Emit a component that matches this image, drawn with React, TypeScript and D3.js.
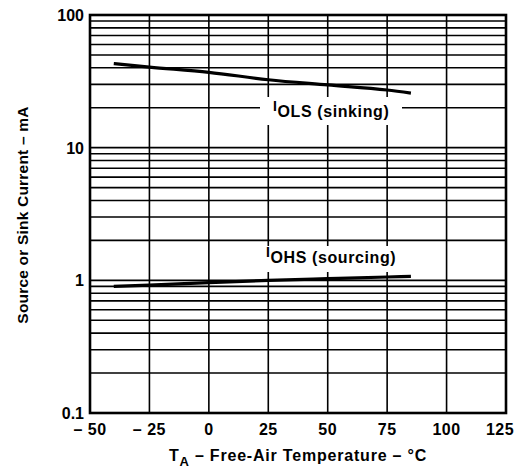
import React, { useRef, useEffect } from 'react';
import * as d3 from 'd3';

// curve data (temperature °C, current mA)
const temps = [-40, -25, 0, 25, 50, 75, 85];
const sinkCurrent = [43, 40.5, 37, 32.5, 29.7, 27.2, 25.8];
const sourceCurrent = [0.9, 0.92, 0.96, 1.0, 1.03, 1.06, 1.07];
const xTicks = [-50, -25, 0, 25, 50, 75, 100, 125];
const yTicks = [0.1, 1, 10, 100];

const W = 525;
const H = 469;
const FONT = '"Liberation Sans", Arial, Helvetica, sans-serif';

export default function App() {
  const svgRef = useRef<SVGSVGElement>(null);

  useEffect(() => {
    const svg = d3.select(svgRef.current);
    svg.selectAll('*').remove();

    const x = d3.scaleLinear().domain([-50, 125]).range([90, 506]);
    const y = d3.scaleLog().domain([0.1, 100]).range([413, 15]);

    // grid: every 1..9 per decade, every 25 °C
    const hLines: number[] = [];
    for (let dec = 0.1; dec < 100; dec *= 10) {
      for (let m = 1; m < 10; m++) hLines.push(+(m * dec).toPrecision(3));
    }
    const grid = svg.append('g').attr('stroke', '#000').attr('stroke-width', 1.6);
    grid.selectAll('line.h')
      .data(hLines)
      .join('line')
      .attr('x1', x(-50)).attr('x2', x(125))
      .attr('y1', d => y(d)).attr('y2', d => y(d));
    grid.selectAll('line.v')
      .data(xTicks)
      .join('line')
      .attr('x1', d => x(d)).attr('x2', d => x(d))
      .attr('y1', y(100)).attr('y2', y(0.1));

    // frame
    svg.append('rect')
      .attr('x', x(-50)).attr('y', y(100))
      .attr('width', x(125) - x(-50)).attr('height', y(0.1) - y(100))
      .attr('fill', 'none').attr('stroke', '#000').attr('stroke-width', 2.6);

    // curves
    const line = d3.line<number>()
      .x((d, i) => x(temps[i]))
      .y(d => y(d))
      .curve(d3.curveMonotoneX);
    svg.append('path').attr('d', line(sinkCurrent))
      .attr('fill', 'none').attr('stroke', '#000').attr('stroke-width', 3.2);
    svg.append('path').attr('d', line(sourceCurrent))
      .attr('fill', 'none').attr('stroke', '#000').attr('stroke-width', 3.2);

    // curve labels on white boxes
    const label = (bx: number, by: number, bw: number, bh: number, tx: number, ty: number, sub: string, rest: string) => {
      svg.append('rect').attr('x', bx).attr('y', by).attr('width', bw).attr('height', bh).attr('fill', '#fff');
      const t = svg.append('text')
        .attr('x', tx).attr('y', ty)
        .attr('font-family', FONT).attr('font-weight', 'bold').attr('font-size', 16)
        .attr('letter-spacing', 0.6);
      t.append('tspan').attr('font-size', 14).attr('dy', -6).text('I');
      t.append('tspan').attr('dy', 6).text(sub);
      t.append('tspan').text(' ' + rest);
    };
    label(260, 97, 142, 28, 273, 117, 'OLS', '(sinking)');
    label(262, 246, 136, 26, 266, 263, 'OHS', '(sourcing)');

    // tick labels
    svg.append('g')
      .selectAll('text')
      .data(xTicks)
      .join('text')
      .attr('x', d => x(d) + (d === 125 ? -6 : 0)).attr('y', 435)
      .attr('text-anchor', 'middle')
      .attr('font-family', FONT).attr('font-weight', 'bold').attr('font-size', 16)
      .attr('letter-spacing', 0.5)
      .text(d => (d < 0 ? '\u2013 ' + Math.abs(d) : String(d)));

    svg.append('g')
      .selectAll('text')
      .data(yTicks)
      .join('text')
      .attr('x', 84).attr('y', d => y(d) + 6)
      .attr('text-anchor', 'end')
      .attr('font-family', FONT).attr('font-weight', 'bold').attr('font-size', 16)
      .text(d => String(d));

    // axis titles
    const xt = svg.append('text')
      .attr('x', 298).attr('y', 461)
      .attr('text-anchor', 'middle')
      .attr('font-family', FONT).attr('font-weight', 'bold').attr('font-size', 16)
      .attr('letter-spacing', 0.8);
    xt.append('tspan').text('T');
    xt.append('tspan').attr('dy', 5).attr('font-size', 13).text('A');
    xt.append('tspan').attr('dy', -5).text(' \u2013 Free-Air Temperature \u2013 \u00B0C');

    svg.append('text')
      .attr('transform', 'translate(28,215) rotate(-90)')
      .attr('text-anchor', 'middle')
      .attr('font-family', FONT).attr('font-weight', 'bold').attr('font-size', 15.5)
      .attr('letter-spacing', 0.2)
      .text('Source or Sink Current \u2013 mA');
  }, []);

  return (
    <div style={{ position: 'absolute', left: 0, top: 0 }}>
      <svg ref={svgRef} width={W} height={H} style={{ display: 'block', background: '#fff' }} />
    </div>
  );
}
